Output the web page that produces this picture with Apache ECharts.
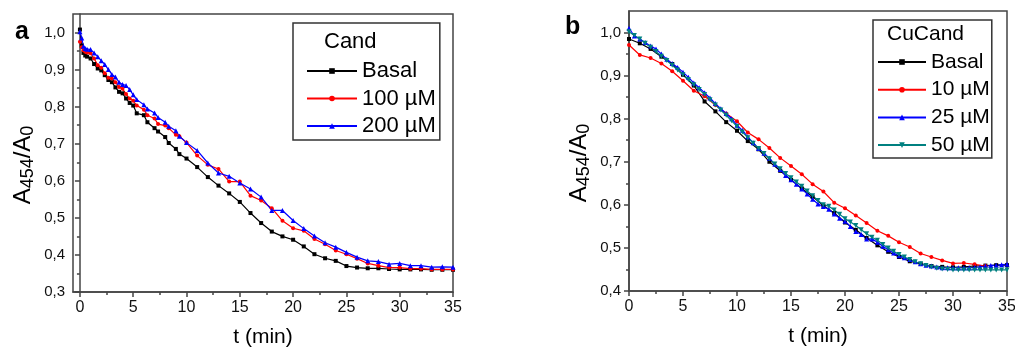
<!DOCTYPE html>
<html><head><meta charset="utf-8">
<script src="https://cdn.jsdelivr.net/npm/echarts@6/dist/echarts.min.js"></script>
<style>html,body{margin:0;padding:0;background:#fff}#c{width:1015px;height:347px}</style>
</head><body><div id="c"></div>
<script>
// ---------- Panel a (Cand) ----------
const tA = [0, 0.17, 0.33, 0.5, 0.67, 1, 1.33, 1.67, 2, 2.33, 2.67, 3, 3.33, 3.67, 4, 4.33, 4.67, 5,
  5.33, 6, 6.33, 7, 7.33, 8, 8.33, 9, 9.33, 10,
  11, 12, 13, 14, 15, 16, 17, 18, 19, 20, 21, 22, 23, 24, 25, 26, 27, 28, 29, 30, 31, 32, 33, 34, 35];
const basalA = [1.008, 0.965, 0.945, 0.938, 0.935, 0.93, 0.915, 0.903, 0.898, 0.885, 0.872, 0.866, 0.852, 0.84, 0.836, 0.822, 0.81, 0.803,
  0.782, 0.777, 0.758, 0.742, 0.733, 0.718, 0.702, 0.686, 0.672, 0.66,
  0.637, 0.61, 0.587, 0.566, 0.543, 0.513, 0.486, 0.463, 0.45, 0.441, 0.423, 0.402, 0.391, 0.384, 0.37, 0.366, 0.364, 0.364, 0.362, 0.361, 0.361, 0.361, 0.36, 0.36, 0.36];
const cand100 = [0.975, 0.96, 0.952, 0.948, 0.946, 0.944, 0.93, 0.912, 0.905, 0.89, 0.878, 0.876, 0.866, 0.853, 0.848, 0.834, 0.822, 0.816,
  0.803, 0.792, 0.777, 0.768, 0.753, 0.749, 0.742, 0.724, 0.72, 0.703,
  0.668, 0.643, 0.632, 0.598, 0.598, 0.56, 0.547, 0.526, 0.492, 0.472, 0.465, 0.443, 0.429, 0.412, 0.402, 0.39, 0.377, 0.371, 0.366, 0.366, 0.363, 0.363, 0.361, 0.361, 0.361];
const cand200 = [1.002, 0.985, 0.963, 0.957, 0.955, 0.954, 0.945, 0.935, 0.924, 0.914, 0.9, 0.887, 0.88, 0.866, 0.86, 0.857, 0.846, 0.832,
  0.819, 0.805, 0.794, 0.783, 0.771, 0.758, 0.747, 0.735, 0.72, 0.703,
  0.682, 0.648, 0.621, 0.612, 0.594, 0.578, 0.556, 0.52, 0.52, 0.493, 0.471, 0.451, 0.433, 0.421, 0.407, 0.394, 0.384, 0.382, 0.375, 0.377, 0.371, 0.371, 0.367, 0.368, 0.367];

// ---------- Panel b (CuCand) ----------
const tB = [0, 1, 2, 3, 4, 5, 6, 7, 8, 9, 10, 11, 12, 13, 14, 15, 16, 17, 18, 19, 20, 21, 22, 23, 24, 25, 26, 27, 28, 29, 30, 31, 32, 33, 34, 35];
const basalB = [0.985, 0.975, 0.962, 0.944, 0.927, 0.902, 0.877, 0.84, 0.817, 0.792, 0.772, 0.748, 0.729, 0.70, 0.679, 0.658, 0.638, 0.619, 0.598, 0.581, 0.559, 0.542, 0.523, 0.506, 0.491, 0.479, 0.469, 0.463, 0.458, 0.456, 0.455, 0.456, 0.458, 0.459, 0.46, 0.46];
const cu10 = [0.971, 0.948, 0.941, 0.928, 0.91, 0.888, 0.865, 0.852, 0.832, 0.812, 0.794, 0.768, 0.752, 0.732, 0.709, 0.69, 0.671, 0.648, 0.631, 0.605, 0.592, 0.575, 0.558, 0.54, 0.528, 0.513, 0.502, 0.487, 0.479, 0.471, 0.464, 0.465, 0.462, 0.458];
const tBhalf = [0, 0.5, 1, 1.5, 2, 2.5, 3, 3.5, 4, 4.5, 5, 5.5, 6, 6.5, 7, 7.5, 8, 8.5, 9, 9.5, 10, 10.5, 11, 11.5, 12, 12.5, 13, 13.5, 14, 14.5, 15, 15.5, 16, 16.5, 17, 17.5,
  18, 18.5, 19, 19.5, 20, 20.5, 21, 21.5, 22, 22.5, 23, 23.5, 24, 24.5, 25, 25.5, 26, 26.5, 27, 27.5, 28, 28.5, 29, 29.5, 30, 30.5, 31, 31.5, 32, 32.5, 33, 33.5, 34, 34.5, 35];
const cu25 = [1.010, 0.992, 0.985, 0.977, 0.969, 0.962, 0.95, 0.938, 0.928, 0.919, 0.908, 0.896, 0.883, 0.872, 0.86, 0.848, 0.835, 0.823, 0.812, 0.8, 0.785, 0.773, 0.758, 0.744, 0.731, 0.72, 0.708, 0.694, 0.682, 0.668, 0.658, 0.648, 0.637, 0.625, 0.613, 0.602,
  0.596, 0.59, 0.579, 0.569, 0.562, 0.55, 0.538, 0.531, 0.521, 0.521, 0.513, 0.504, 0.496, 0.488, 0.482, 0.477, 0.473, 0.468, 0.463, 0.46, 0.458, 0.456, 0.454, 0.454, 0.454, 0.454, 0.454, 0.454, 0.455, 0.456, 0.458, 0.459, 0.46, 0.461, 0.462];
const cu50 = [1.002, 0.993, 0.985, 0.975, 0.966, 0.956, 0.945, 0.935, 0.924, 0.913, 0.902, 0.891, 0.879, 0.868, 0.856, 0.844, 0.832, 0.82, 0.808, 0.795, 0.782, 0.769, 0.756, 0.743, 0.731, 0.719, 0.707, 0.695, 0.684, 0.673, 0.663, 0.653, 0.643, 0.632, 0.621, 0.61,
  0.6, 0.597, 0.588, 0.578, 0.568, 0.56, 0.552, 0.542, 0.533, 0.525, 0.518, 0.508, 0.5, 0.492, 0.485, 0.479, 0.473, 0.468, 0.463, 0.459, 0.456, 0.453, 0.451, 0.45, 0.449, 0.449, 0.449, 0.449, 0.449, 0.449, 0.449, 0.449, 0.449, 0.449, 0.449];

// ---------- Ticks ----------
const xMajor = [0, 5, 10, 15, 20, 25, 30, 35];
const xMinor = [2.5, 7.5, 12.5, 17.5, 22.5, 27.5, 32.5];
const yMajorA = [0.3, 0.4, 0.5, 0.6, 0.7, 0.8, 0.9, 1.0];
const yMinorA = [0.35, 0.45, 0.55, 0.65, 0.75, 0.85, 0.95];
const yMajorB = [0.4, 0.5, 0.6, 0.7, 0.8, 0.9, 1.0];
const yMinorB = [0.45, 0.55, 0.65, 0.75, 0.85, 0.95];

const FONT = '"Liberation Sans", Arial, sans-serif';
const AX = '#444444';
const zip = (t, v) => v.map((y, i) => [t[i], y]);
const comma = v => v.toFixed(1).replace('.', ',');

function xAxes(grid, min, max) {
  return [
    { type: 'value', gridIndex: grid, position: 'bottom', min, max,
      name: 't (min)', nameLocation: 'middle', nameGap: 35,
      nameTextStyle: { fontSize: 21, fontFamily: FONT, color: '#000' },
      axisLine: { show: true, lineStyle: { color: AX, width: 1.5 } },
      axisTick: { show: true, customValues: xMajor, length: 5, lineStyle: { color: AX, width: 1.5 } },
      axisLabel: { customValues: xMajor, margin: 8, fontSize: 16, fontFamily: FONT, color: '#111' },
      splitLine: { show: false } },
    { type: 'value', gridIndex: grid, position: 'bottom', min, max,
      axisLine: { show: false },
      axisTick: { show: true, customValues: xMinor, length: 3, lineStyle: { color: AX, width: 1.5 } },
      axisLabel: { show: false }, splitLine: { show: false } }
  ];
}
function yAxes(grid, min, max, major, minor) {
  return [
    { type: 'value', gridIndex: grid, position: 'left', min, max,
      name: '{a|A}{s|454}{a|/A}{s|0}', nameLocation: 'middle', nameGap: 36,
      nameTextStyle: { fontFamily: FONT, color: '#000', padding: [0, 24, 0, 0],
        rich: { a: { fontSize: 24, fontFamily: FONT, lineHeight: 26, verticalAlign: 'top' },
                s: { fontSize: 18, fontFamily: FONT, lineHeight: 20, verticalAlign: 'bottom', padding: [11, 0, 0, 0] } } },
      axisLine: { show: true, lineStyle: { color: AX, width: 1.5 } },
      axisTick: { show: true, customValues: major, length: 5, lineStyle: { color: AX, width: 1.5 } },
      axisLabel: { customValues: major, margin: 8, fontSize: 15, fontFamily: FONT, color: '#111', formatter: comma },
      splitLine: { show: false } },
    { type: 'value', gridIndex: grid, position: 'left', min, max,
      axisLine: { show: false },
      axisTick: { show: true, customValues: minor, length: 3, lineStyle: { color: AX, width: 1.5 } },
      axisLabel: { show: false }, splitLine: { show: false } }
  ];
}
function line(name, xi, yi, data, color, symbol, size, rotate) {
  return { type: 'line', name, xAxisIndex: xi, yAxisIndex: yi, data,
    symbol, symbolSize: size, symbolRotate: rotate || 0, showSymbol: true,
    lineStyle: { color, width: 1.2 }, itemStyle: { color, borderWidth: 0 },
    emphasis: { disabled: true }, animation: false };
}

const chart = echarts.init(document.getElementById('c'), null, { renderer: 'canvas' });
chart.setOption({
  animation: false,
  backgroundColor: '#fff',
  textStyle: { fontFamily: FONT },
  grid: [
    { left: 73, top: 14, width: 380, height: 278, show: true, borderColor: AX, borderWidth: 1.5, containLabel: false, outerBoundsMode: 'none' },
    { left: 629, top: 11, width: 378, height: 280, show: true, borderColor: AX, borderWidth: 1.5, containLabel: false, outerBoundsMode: 'none' }
  ],
  xAxis: [...xAxes(0, -0.65, 35), ...xAxes(1, 0, 35)],
  yAxis: [...yAxes(0, 0.3, 1.05, yMajorA, yMinorA), ...yAxes(1, 0.4, 1.05, yMajorB, yMinorB)],
  title: [
    { text: 'a', left: 15, top: 20, padding: 0, textStyle: { fontSize: 25, fontWeight: 'bold', fontFamily: FONT, color: '#000' } },
    { text: 'b', left: 565, top: 15, padding: 0, textStyle: { fontSize: 25, fontWeight: 'bold', fontFamily: FONT, color: '#000' } },
    { text: 'Cand', left: 324, top: 31, padding: 0, textStyle: { fontSize: 22, fontWeight: 'normal', fontFamily: FONT, color: '#000' } },
    { text: 'CuCand', left: 887, top: 24, padding: 0, textStyle: { fontSize: 21, fontWeight: 'normal', fontFamily: FONT, color: '#000' } }
  ],
  legend: [
    { orient: 'vertical', left: 293, top: 23, padding: [37, 4, 3, 13], itemWidth: 50, itemHeight: 7, itemGap: 5.5,
      borderColor: '#333', borderWidth: 1.5, selectedMode: false,
      data: ['Basal', '100 µM', '200 µM'],
      textStyle: { fontSize: 22, lineHeight: 22, fontFamily: FONT, color: '#000' } },
    { orient: 'vertical', left: 873, top: 20, padding: [31, 2, 2, 4], itemWidth: 48, itemHeight: 7, itemGap: 5.7,
      borderColor: '#333', borderWidth: 1.5, selectedMode: false,
      data: ['Basal ', '10 µM', '25 µM', '50 µM'], formatter: n => n.trim(),
      textStyle: { fontSize: 21, lineHeight: 22, fontFamily: FONT, color: '#000' } }
  ],
  series: [
    line('Basal', 0, 0, zip(tA, basalA), '#000000', 'rect', 4),
    line('100 µM', 0, 0, zip(tA, cand100), '#ff0000', 'circle', 4),
    line('200 µM', 0, 0, zip(tA, cand200), '#0000ff', 'triangle', 5),
    line('Basal ', 2, 2, zip(tB, basalB), '#000000', 'rect', 4),
    line('10 µM', 2, 2, zip(tB, cu10), '#ff0000', 'circle', 4),
    line('25 µM', 2, 2, zip(tBhalf, cu25), '#0000ff', 'triangle', 5),
    line('50 µM', 2, 2, zip(tBhalf, cu50), '#008080', 'triangle', 5, 180)
  ]
});
</script></body></html>
